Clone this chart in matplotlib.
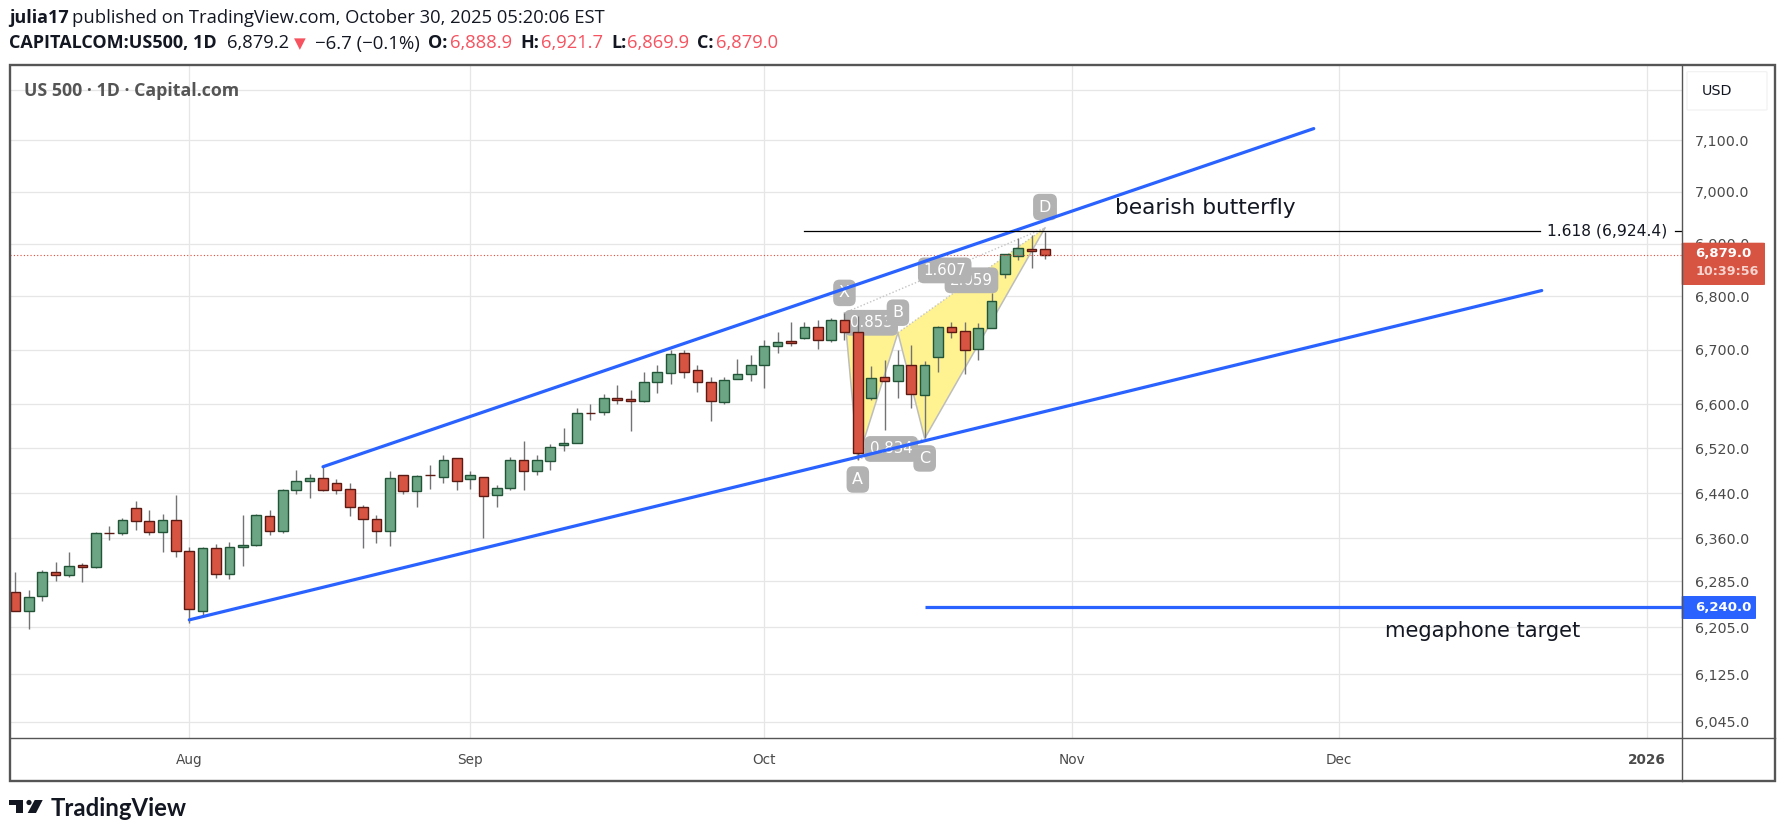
import matplotlib
matplotlib.use("Agg")
import matplotlib.pyplot as plt
import numpy as np
from matplotlib.patches import Circle, FancyBboxPatch, Polygon, Rectangle
from matplotlib.ticker import NullLocator

W, H = 1785, 836

# daily candles, first one is 13 sessions before Aug 1
first_bar = -13
opens = [6266, 6234, 6259.5, 6301, 6295.5, 6313, 6309, 6369, 6369, 6413, 6390, 6371, 6392,
         6337, 6234, 6342.5, 6297, 6344, 6348, 6399, 6372, 6445, 6461, 6467, 6458, 6447,
         6415, 6394, 6372, 6472, 6443.5, 6472.2, 6468, 6502, 6465, 6468, 6436, 6449, 6500,
         6479, 6497, 6525.5, 6529, 6584.3, 6585.5, 6611, 6609, 6605.5, 6641, 6658, 6694.5,
         6663, 6641, 6604, 6647, 6656, 6672.5, 6707.5, 6716, 6722, 6742.5, 6718.5, 6755.5,
         6733, 6612, 6650, 6642.5, 6672, 6617, 6687, 6743, 6735, 6702, 6741, 6841.5, 6877,
         6890, 6888.9]
highs = [6301, 6269, 6305, 6319, 6336, 6316, 6371, 6382, 6396, 6425, 6409, 6403, 6437,
         6345, 6344, 6350, 6353, 6401.5, 6402, 6409, 6447, 6481, 6474, 6487, 6465.5, 6458,
         6419, 6401, 6480, 6472.5, 6472.5, 6490, 6508, 6503, 6480, 6469, 6454, 6504.5, 6533,
         6508, 6528, 6557, 6593, 6600.5, 6618.5, 6636, 6626.5, 6660, 6673, 6700.5, 6700.5,
         6673, 6650, 6650, 6683.5, 6691, 6719, 6734, 6752.5, 6752, 6756, 6760, 6769,
         6763.5, 6671, 6682, 6699.5, 6710, 6680, 6745, 6752, 6752, 6750.5, 6807, 6881, 6911,
         6917, 6921.7]
lows = [6233, 6203, 6250, 6286, 6293, 6283, 6307, 6356, 6366, 6375, 6365, 6335, 6327,
        6213, 6227, 6290, 6288, 6310.5, 6345.5, 6365, 6370, 6439, 6432, 6443, 6437.5, 6400,
        6343.5, 6352, 6347, 6437.5, 6416, 6446.5, 6457, 6445, 6448, 6361, 6416, 6445, 6445,
        6473, 6482, 6516, 6529, 6572, 6581, 6600.6, 6552, 6605, 6621, 6638, 6649,
        6623, 6570, 6601, 6647, 6642, 6629, 6693.5, 6707, 6720, 6701, 6715, 6718,
        6500, 6607, 6554, 6612, 6594, 6538, 6659, 6723, 6655, 6682, 6741, 6835, 6868,
        6853, 6869.9]
closes = [6234, 6258, 6301, 6295.5, 6311, 6309, 6369, 6368.5, 6392, 6390, 6371, 6392, 6337,
          6236, 6342.5, 6297, 6344, 6348, 6401, 6372, 6445, 6461, 6467, 6445, 6445, 6415,
          6394, 6372, 6467, 6443.5, 6470, 6472, 6500, 6461, 6472, 6435, 6449, 6500, 6479,
          6498.6, 6522, 6529, 6584, 6584, 6611, 6608.5, 6605.5, 6641, 6659.5, 6693, 6660,
          6641, 6605.5, 6645, 6656, 6672.5, 6707.5, 6715, 6713, 6743, 6718.5, 6755.5, 6733,
          6511, 6647.5, 6642.5, 6672, 6618.5, 6672, 6743, 6733, 6700, 6741, 6791, 6881, 6892,
          6885, 6879.0]

price_ticks = [7200, 7100, 7000, 6900, 6800, 6700, 6600, 6520, 6440, 6360, 6285, 6205, 6125, 6045]
price_labels = ["", "7,100.0", "7,000.0", "6,900.0", "6,800.0", "6,700.0", "6,600.0", "6,520.0",
                "6,440.0", "6,360.0", "6,285.0", "6,205.0", "6,125.0", "6,045.0"]
month_ticks = [0, 21, 43, 66, 86, 109]
month_labels = ["Aug", "Sep", "Oct", "Nov", "Dec", "2026"]

# drawings
upper_x, upper_y = [10, 84.1], [6487, 7123]
lower_x, lower_y = [0, 101.15], [6218, 6811]
target_start, target_price = 55, 6240.0
fib_start, fib_price = 46, 6924.4
last_price = 6879.0
pattern_names = ["X", "A", "B", "C", "D"]
pattern_x = [49, 50, 53, 55, 64]
pattern_y = [6769, 6500, 6732, 6538, 6930]
# draw order matters, 1.607 lies over 2.059 and the letters over the ratios
ratio_labels = [("2.059", 2, 4), ("0.853", 0, 2), ("0.834", 1, 3), ("1.607", 0, 4)]

up, up_edge = "#6ba583", "#225437"
down, down_edge = "#d75442", "#5b1a13"
wick = "#737375"
blue = "#2962ff"
frame = "#555555"
grid = "#e6e6e6"
ink = "#131722"
red_text = "#f7525f"
sans = "Open Sans"
x_end = 111.62


def fx(x):
    return x / W


def fy(y):
    return 1 - y / H


opens, highs, lows, closes = map(np.array, (opens, highs, lows, closes))
bars = np.arange(first_bar, first_bar + len(opens))

fig = plt.figure(figsize=(W / 100, H / 100), dpi=100, facecolor="white")
ax = fig.add_axes([fx(10), fy(738.3), fx(1681.7 - 10), (738.3 - 65) / H])
ax.set_yscale("log")
ax.set_xlim(-13.41, x_end)
ax.set_ylim(6017.6, 7249.4)
for s in ax.spines.values():
    s.set_visible(False)

ax.yaxis.set_minor_locator(NullLocator())
ax.xaxis.set_minor_locator(NullLocator())
ax.set_yticks(price_ticks, price_labels)
ax.set_xticks(month_ticks, month_labels)
ax.yaxis.tick_right()
ax.tick_params(axis="y", length=0, pad=9.4, labelsize=10.3, labelcolor="#4a4a4a")
ax.tick_params(axis="x", length=0, pad=10.3, labelsize=9.8, labelcolor="#4a4a4a")
ax.get_xticklabels()[-1].set_fontweight("bold")
ax.grid(True, color=grid, lw=0.9)
ax.set_axisbelow(True)

# harmonic pattern sits under the candles
px_, py_ = np.array(pattern_x), np.array(pattern_y)
for tri in ([0, 1, 2], [2, 3, 4]):
    ax.fill(px_[tri], py_[tri], color="#fff290", lw=0, zorder=1.5)
ax.plot(px_, py_, color="#bdbdbd", lw=1.1, zorder=1.6)
for a, b in [(0, 2), (2, 4), (1, 3), (0, 4)]:
    ax.plot(px_[[a, b]], py_[[a, b]], color="#c4c4c4", lw=1.0, ls=(0, (1, 1.5)), zorder=1.6)
box = dict(boxstyle="round,pad=0.36,rounding_size=0.4", fc="#b2b2b2", ec="none")
for text, a, b in ratio_labels:
    ax.annotate(text, ((px_[a] + px_[b]) / 2, np.sqrt(py_[a] * py_[b])), ha="center", va="center",
                color="white", fontsize=10.8, bbox=box, zorder=2)
for name, x, y, dy in zip(pattern_names, pattern_x, pattern_y, [14.4, -14.4, 14.4, -14.4, 15]):
    ax.annotate(name, (x, y), xytext=(0, dy), textcoords="offset points", ha="center", va="center",
                color="white", fontsize=11.5, bbox=box, zorder=2)

# candles
rising = closes >= opens
ax.vlines(bars, lows, highs, color=wick, lw=1.0, zorder=3)
ax.bar(bars, np.abs(closes - opens), bottom=np.minimum(opens, closes), width=0.72,
       color=[up if r else down for r in rising],
       edgecolor=[up_edge if r else down_edge for r in rising], linewidth=1.0, zorder=3.1)

ax.axhline(last_price, color="#e04a3a", lw=0.8, ls=(0, (1, 2)), zorder=3.2)

# trend lines and levels
ax.plot(upper_x, upper_y, color=blue, lw=2.3, zorder=4, solid_capstyle="round")
ax.plot(lower_x, lower_y, color=blue, lw=2.3, zorder=4, solid_capstyle="round")
ax.plot([target_start, x_end], [target_price, target_price], color=blue, lw=2.3, zorder=4,
        solid_capstyle="butt")
# level line stops either side of its label
ax.plot([fib_start, 101.03], [fib_price, fib_price], color="black", lw=0.9, zorder=4)
ax.plot([111.12, x_end], [fib_price, fib_price], color="black", lw=0.9, zorder=4)
ax.text(106.07, fib_price, "1.618 (6,924.4)", ha="center", va="center", fontsize=11.2, color=ink, zorder=5)
ax.text(76, 6968, "bearish butterfly", ha="center", va="center", fontsize=15.6, color=ink, zorder=5)
ax.text(96.7, 6199, "megaphone target", ha="center", va="center", fontsize=15.1, color=ink, zorder=5)

# frame
fig.add_artist(Rectangle((fx(10), fy(781)), 1765 / W, 716 / H, transform=fig.transFigure, fc="none",
                         ec=frame, lw=1.7, zorder=6))
fig.add_artist(plt.Line2D([fx(1681.7)] * 2, [fy(65), fy(781)], color=frame, lw=1.0, zorder=6))
fig.add_artist(plt.Line2D([fx(10), fx(1775)], [fy(738.3)] * 2, color=frame, lw=1.0, zorder=6))


def tag(x0, y0, x1, y1, color, ec="none"):
    fig.add_artist(FancyBboxPatch((fx(x0), fy(y1)), (x1 - x0) / W, (y1 - y0) / H, transform=fig.transFigure,
                                  boxstyle="round,pad=0,rounding_size=0.0012", mutation_aspect=H / W,
                                  fc=color, ec=ec, lw=0.8, zorder=5))


def put(x, y, s, **kw):
    kw.setdefault("va", "center")
    kw.setdefault("family", sans)
    fig.text(fx(x), fy(y), s, zorder=7, **kw)


# price axis tags
tag(1687, 71.7, 1767, 110, "white", "#f0f0f0")
put(1701.7, 90.7, "USD", fontsize=10.3, color=ink, family="DejaVu Sans")
tag(1681.7, 242.7, 1765, 285, down)
put(1694.7, 253.3, "6,879.0", fontsize=9.5, color="white", fontweight="bold", family="DejaVu Sans")
put(1695.5, 272, "10:39:56", fontsize=9.2, color="#f6d5d0", fontweight="bold", family="DejaVu Sans")
tag(1681.7, 596, 1756, 619, blue)
put(1694.7, 607.5, "6,240.0", fontsize=9.5, color="white", fontweight="bold", family="DejaVu Sans")

# header
put(23.5, 90.7, "US 500 · 1D · Capital.com", fontsize=12.8, color="#555555", fontweight="bold")
put(9, 18, "julia17", fontsize=13, color=ink, fontweight="bold")
put(72, 18, "published on TradingView.com, October 30, 2025 05:20:06 EST", fontsize=13.25, color=ink)
put(9, 43.5, "CAPITALCOM:US500, 1D", fontsize=13, color=ink, fontweight="bold")
put(227.5, 43.5, "6,879.2", fontsize=13.2, color=ink)
put(294, 43.5, "▼", fontsize=11, color=red_text, family="DejaVu Sans")
put(315, 43.5, "−6.7 (−0.1%)", fontsize=13.4, color=ink)
for lx, label, vx, value in [(428, "O:", 450, "6,888.9"), (520, "H:", 541, "6,921.7"),
                             (611, "L:", 627.5, "6,869.9"), (697, "C:", 716, "6,879.0")]:
    put(lx, 43.5, label, fontsize=13, color=ink, fontweight="bold")
    put(vx, 43.5, value, fontsize=13.2, color=red_text)

# logo
for pts in ([(9, 800), (23.3, 800), (23.3, 813), (15.7, 813), (15.7, 805.3), (9, 805.3)],
            [(34.7, 800), (42.7, 800), (36, 813), (27.7, 813)]):
    fig.add_artist(Polygon([(fx(a), fy(b)) for a, b in pts], transform=fig.transFigure, fc=ink, ec="none"))
fig.add_artist(Circle((29 / 100, (H - 802.5) / 100), 2.6 / 100, transform=fig.dpi_scale_trans, fc=ink, ec="none"))
put(50.5, 808, "TradingView", fontsize=17.2, color=ink, fontweight="bold", family="Lato")

fig.savefig("out.png", dpi=100, facecolor="white")
